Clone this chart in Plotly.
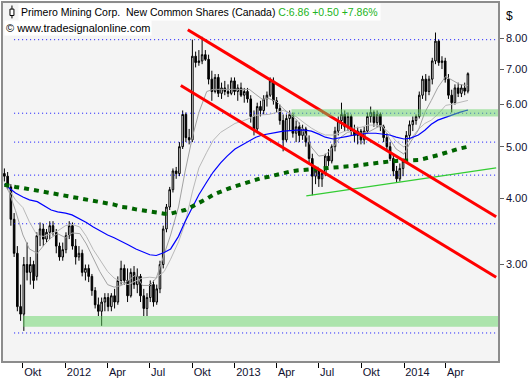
import math
import pandas as pd
import plotly.graph_objects as go

# ---------------- data (weekly OHLC) ----------------
week_start = "2011-08-22"
opens = [4.45, 4.40, 4.20, 3.65, 3.15, 2.50, 2.42, 3.00, 2.90, 3.00,
         2.85, 3.40, 3.50, 3.35, 3.45, 3.55, 3.45, 3.25, 3.10, 3.20,
         3.40, 3.55, 3.25, 3.10, 3.15, 2.90, 2.95, 2.85, 2.68, 2.52,
         2.45, 2.55, 2.60, 2.50, 2.62, 2.55, 2.80, 2.95, 2.80, 2.62,
         2.90, 2.75, 2.85, 2.62, 2.48, 2.60, 2.75, 2.55, 2.70, 3.00,
         3.50, 3.85, 4.15, 4.50, 4.45, 5.00, 5.75, 5.20, 5.15, 7.40,
         7.20, 7.25, 7.45, 7.30, 6.70, 6.35, 6.75, 6.30, 6.45, 6.35,
         6.30, 6.65, 6.35, 6.45, 6.25, 6.35, 6.15, 5.70, 5.40, 5.95,
         5.85, 6.15, 6.25, 6.65, 6.10, 5.90, 5.60, 5.15, 5.65, 5.75,
         5.30, 5.45, 5.25, 5.40, 5.10, 4.75, 4.40, 4.50, 4.35, 4.45,
         4.80, 4.70, 5.00, 5.35, 5.60, 5.75, 5.45, 5.70, 5.35, 5.25,
         5.35, 5.15, 5.35, 5.70, 5.80, 5.55, 5.75, 5.45, 5.20, 5.00,
         4.75, 4.50, 4.35, 4.55, 4.70, 5.25, 5.50, 5.60, 5.70, 6.25,
         6.70, 6.35, 6.70, 7.25, 7.90, 7.20, 7.25, 6.70, 6.25, 6.05,
         6.45, 6.30, 6.45, 6.36]
highs = [4.55, 4.48, 4.25, 3.75, 3.25, 2.75, 3.10, 3.30, 3.10, 3.05,
         3.45, 3.60, 3.58, 3.50, 3.62, 3.62, 3.50, 3.30, 3.30, 3.45,
         3.62, 3.60, 3.35, 3.25, 3.20, 3.00, 3.00, 2.88, 2.72, 2.60,
         2.60, 2.65, 2.65, 2.65, 2.70, 2.85, 3.05, 3.00, 2.95, 2.95,
         2.98, 2.95, 2.88, 2.70, 2.65, 2.80, 2.80, 2.75, 3.05, 3.55,
         3.90, 4.20, 4.55, 4.58, 5.10, 5.85, 5.80, 5.40, 7.95, 7.55,
         7.60, 8.05, 7.60, 7.45, 6.95, 6.85, 6.85, 6.60, 6.65, 6.55,
         6.75, 6.75, 6.55, 6.60, 6.45, 6.45, 6.25, 5.85, 6.05, 6.10,
         6.25, 6.35, 6.75, 6.75, 6.20, 6.00, 5.75, 5.75, 5.85, 5.80,
         5.60, 5.55, 5.50, 5.45, 5.25, 4.85, 4.60, 4.55, 4.50, 4.85,
         4.95, 5.05, 5.45, 5.70, 6.05, 5.85, 5.80, 5.75, 5.50, 5.45,
         5.40, 5.45, 5.80, 5.95, 5.85, 5.85, 5.80, 5.50, 5.30, 5.10,
         4.85, 4.60, 4.65, 4.75, 5.35, 5.60, 5.70, 5.75, 6.35, 6.80,
         6.85, 6.80, 7.35, 8.20, 7.95, 7.40, 7.35, 6.85, 6.40, 6.55,
         6.60, 6.55, 6.60, 6.90]
lows = [4.30, 4.15, 3.55, 3.10, 2.45, 2.35, 2.25, 2.80, 2.75, 2.70,
        2.80, 3.25, 3.25, 3.30, 3.35, 3.40, 3.15, 3.05, 3.05, 3.15,
        3.35, 3.20, 3.00, 3.05, 2.85, 2.80, 2.78, 2.62, 2.48, 2.40,
        2.30, 2.45, 2.45, 2.45, 2.48, 2.52, 2.75, 2.75, 2.55, 2.60,
        2.70, 2.65, 2.55, 2.40, 2.40, 2.55, 2.50, 2.52, 2.65, 2.95,
        3.45, 3.80, 4.10, 4.35, 4.40, 4.95, 5.10, 5.05, 5.10, 7.05,
        7.10, 7.15, 7.25, 6.55, 6.10, 6.30, 6.20, 6.15, 6.25, 6.20,
        6.25, 6.25, 6.10, 6.20, 6.05, 6.05, 5.55, 5.25, 5.35, 5.70,
        5.75, 5.95, 6.20, 6.00, 5.80, 5.50, 4.90, 5.10, 5.35, 5.20,
        5.10, 5.10, 5.15, 5.00, 4.65, 4.05, 4.25, 4.20, 4.20, 4.40,
        4.60, 4.65, 4.90, 5.25, 5.40, 5.35, 5.35, 5.25, 5.10, 5.05,
        5.05, 5.05, 5.30, 5.55, 5.45, 5.45, 5.35, 5.10, 4.90, 4.70,
        4.40, 4.28, 4.30, 4.40, 4.65, 5.15, 5.35, 5.50, 5.65, 6.15,
        6.10, 6.25, 6.55, 7.15, 7.10, 7.00, 6.60, 6.15, 5.80, 6.00,
        6.20, 6.20, 6.25, 6.30]
closes = [4.40, 4.25, 3.65, 3.15, 2.50, 2.42, 3.00, 2.90, 3.00, 2.80,
          3.40, 3.50, 3.35, 3.45, 3.55, 3.45, 3.25, 3.10, 3.20, 3.40,
          3.55, 3.25, 3.10, 3.15, 2.90, 2.95, 2.85, 2.68, 2.52, 2.45,
          2.55, 2.60, 2.50, 2.62, 2.55, 2.80, 2.95, 2.80, 2.62, 2.90,
          2.75, 2.85, 2.62, 2.48, 2.60, 2.75, 2.55, 2.70, 3.00, 3.50,
          3.85, 4.15, 4.50, 4.45, 5.00, 5.75, 5.20, 5.15, 7.40, 7.20,
          7.25, 7.45, 7.30, 6.70, 6.35, 6.75, 6.30, 6.45, 6.35, 6.30,
          6.65, 6.35, 6.45, 6.25, 6.35, 6.15, 5.70, 5.40, 5.95, 5.85,
          6.15, 6.25, 6.65, 6.10, 5.90, 5.60, 5.15, 5.65, 5.75, 5.30,
          5.45, 5.25, 5.40, 5.10, 4.75, 4.40, 4.50, 4.35, 4.45, 4.80,
          4.70, 5.00, 5.35, 5.60, 5.75, 5.45, 5.70, 5.35, 5.25, 5.35,
          5.15, 5.35, 5.70, 5.80, 5.55, 5.75, 5.45, 5.20, 5.00, 4.75,
          4.50, 4.35, 4.55, 4.70, 5.25, 5.50, 5.60, 5.70, 6.25, 6.70,
          6.35, 6.70, 7.25, 7.90, 7.20, 7.25, 6.70, 6.25, 6.05, 6.45,
          6.30, 6.45, 6.36, 6.86]

# moving averages, read at the 1st and 15th of each month
ma_first = "2011-08-22"
ma_last = "2014-05-19"
ma_fast = [4.25, 4.11, 3.79, 3.41, 3.21, 3.15, 3.26, 3.37, 3.43, 3.37,
           3.44, 3.43, 3.28, 3.09, 2.91, 2.75, 2.72, 2.74, 2.80, 2.87,
           2.74, 2.74, 2.83, 3.12, 3.41, 3.85, 4.48, 5.21, 5.80, 6.35,
           6.41, 6.41, 6.41, 6.41, 6.41, 6.41, 6.27, 6.14, 6.16, 6.08,
           5.90, 5.75, 5.61, 5.30, 4.99, 4.80, 4.82, 4.99, 5.19, 5.32,
           5.35, 5.30, 5.32, 5.42, 5.49, 5.17, 4.95, 4.84, 5.10, 5.37,
           5.80, 6.11, 6.46, 6.78, 6.66, 6.55, 6.52, 6.52]
ma_mid = [4.25, 4.15, 3.97, 3.84, 3.61, 3.40, 3.39, 3.43, 3.47, 3.55,
          3.57, 3.53, 3.39, 3.20, 3.07, 2.91, 2.83, 2.78, 2.75, 2.79,
          2.83, 2.84, 2.83, 2.91, 3.07, 3.31, 3.58, 4.11, 4.56, 4.88,
          5.14, 5.32, 5.42, 5.53, 5.58, 5.65, 5.73, 5.74, 5.75, 5.80,
          5.85, 5.78, 5.68, 5.53, 5.42, 5.32, 5.26, 5.26, 5.30, 5.37,
          5.42, 5.44, 5.49, 5.49, 5.46, 5.30, 5.12, 4.99, 5.17, 5.39,
          5.53, 5.61, 5.75, 5.98, 6.01, 6.06, 6.11, 6.11]
ma_50 = [4.25, 4.18, 4.09, 4.02, 3.97, 3.94, 3.87, 3.80, 3.77, 3.75,
         3.72, 3.66, 3.60, 3.53, 3.47, 3.41, 3.37, 3.31, 3.27, 3.21,
         3.17, 3.13, 3.12, 3.16, 3.21, 3.39, 3.61, 3.85, 4.06, 4.29,
         4.48, 4.66, 4.80, 4.95, 5.03, 5.14, 5.21, 5.26, 5.28, 5.32,
         5.35, 5.37, 5.37, 5.37, 5.35, 5.28, 5.21, 5.17, 5.19, 5.23,
         5.26, 5.28, 5.30, 5.30, 5.28, 5.26, 5.21, 5.17, 5.19, 5.26,
         5.37, 5.51, 5.61, 5.68, 5.75, 5.80, 5.85, 5.86]
ma_200 = [4.24, 4.22, 4.20, 4.18, 4.16, 4.13, 4.11, 4.09, 4.07, 4.05,
          4.02, 4.00, 3.98, 3.95, 3.94, 3.91, 3.89, 3.85, 3.84, 3.81,
          3.79, 3.77, 3.75, 3.74, 3.74, 3.77, 3.80, 3.86, 3.91, 3.99,
          4.06, 4.12, 4.16, 4.21, 4.25, 4.29, 4.33, 4.37, 4.39, 4.43,
          4.47, 4.49, 4.51, 4.52, 4.53, 4.54, 4.55, 4.56, 4.57, 4.58,
          4.60, 4.62, 4.64, 4.66, 4.68, 4.69, 4.70, 4.70, 4.70, 4.72,
          4.75, 4.78, 4.82, 4.87, 4.92, 4.96, 4.99, 5.00]

# drawn studies
channel_upper_dates = ["2012-09-21", "2014-07-19"]
channel_upper_vals = [8.30, 3.69]
channel_lower_dates = ["2012-09-06", "2014-07-19"]
channel_lower_vals = [6.52, 2.84]
trend_dates = ["2013-06-04", "2014-07-19"]
trend_vals = [4.04, 4.56]
support_levels = [7.95, 5.78, 5.10, 4.42, 3.58, 2.23]
support_from = "2011-09-12"
zone_upper = [5.70, 5.88]
zone_upper_from = "2013-05-03"
zone_lower = [2.29, 2.40]
zone_lower_from = "2011-10-01"

x_range = ["2011-08-19", "2014-07-23"]
y_range = [1.975, 9.32]
x_tick_dates = ["2011-10-01", "2012-01-01", "2012-04-01", "2012-07-01", "2012-10-01",
                "2013-01-01", "2013-04-01", "2013-07-01", "2013-10-01", "2014-01-01",
                "2014-04-01"]
x_tick_labels = ["Okt", "2012", "Apr", "Jul", "Okt", "2013", "Apr", "Jul", "Okt", "2014", "Apr"]
y_tick_vals = [3, 4, 5, 6, 7, 8]
y_tick_labels = ["3.00", "4.00", "5.00", "6.00", "7.00", "8.00"]

title_name = "Primero Mining Corp.  New Common Shares (Canada)"
title_quote = "C:6.86 +0.50 +7.86%"
source_text = "© www.tradesignalonline.com"
currency = "$"

# ---------------- figure ----------------
dates = pd.date_range(week_start, periods=len(opens), freq="W-MON")
ma_dates = ([pd.Timestamp(ma_first)]
            + list(pd.date_range("2011-09-01", "2014-05-15", freq="SMS"))
            + [pd.Timestamp(ma_last)])

FONT = "Liberation Sans, Arial, sans-serif"
fig = go.Figure()

end_x = x_range[1]
for lvl in support_levels:
    fig.add_trace(go.Scatter(x=[support_from, end_x], y=[lvl, lvl], mode="lines",
                             line=dict(color="#1010ff", width=1, dash="1px,3px"),
                             hoverinfo="skip"))

fig.add_trace(go.Scatter(x=ma_dates, y=ma_mid, mode="lines",
                         line=dict(color="#b9b9b9", width=1), hoverinfo="skip"))
fig.add_trace(go.Scatter(x=ma_dates, y=ma_fast, mode="lines",
                         line=dict(color="#a2a2a2", width=1), hoverinfo="skip"))
fig.add_trace(go.Scatter(x=ma_dates, y=ma_50, mode="lines",
                         line=dict(color="#0000ff", width=1.2), hoverinfo="skip"))

fig.add_trace(go.Candlestick(
    x=dates, open=opens, high=highs, low=lows, close=closes,
    increasing=dict(line=dict(color="black", width=1), fillcolor="white"),
    decreasing=dict(line=dict(color="black", width=1), fillcolor="black"),
    whiskerwidth=0, hoverinfo="skip"))

fig.add_trace(go.Scatter(x=ma_dates, y=ma_200, mode="lines",
                         line=dict(color="#006400", width=4, dash="5px,5px"),
                         hoverinfo="skip"))

fig.add_trace(go.Scatter(x=trend_dates, y=trend_vals, mode="lines",
                         line=dict(color="#33cc33", width=1.2), hoverinfo="skip"))
fig.add_trace(go.Scatter(x=channel_upper_dates, y=channel_upper_vals, mode="lines",
                         line=dict(color="#ff0000", width=3), hoverinfo="skip"))
fig.add_trace(go.Scatter(x=channel_lower_dates, y=channel_lower_vals, mode="lines",
                         line=dict(color="#ff0000", width=3), hoverinfo="skip"))

for lo_hi, start in ((zone_upper, zone_upper_from), (zone_lower, zone_lower_from)):
    lo, hi = lo_hi
    fig.add_trace(go.Scatter(x=[start, end_x, end_x, start, start],
                             y=[lo, lo, hi, hi, lo], mode="lines", fill="toself",
                             fillcolor="rgba(100,212,100,0.5)",
                             line=dict(width=0), hoverinfo="skip"))

fig.update_layout(
    width=528, height=380,
    margin=dict(l=1, r=29, t=1, b=19),
    paper_bgcolor="white", plot_bgcolor="#f4f4f4",
    showlegend=False,
    font=dict(family=FONT, size=11, color="black"),
    xaxis=dict(type="date", range=x_range, showgrid=False, zeroline=False,
               rangeslider=dict(visible=False),
               tickmode="array", tickvals=x_tick_dates, ticktext=x_tick_labels,
               ticks="outside", ticklen=5, tickcolor="black", tickwidth=1,
               ticklabelposition="outside right",
               showline=True, linecolor="#8c8c8c", linewidth=1.5, mirror=True,
               tickfont=dict(family=FONT, size=11, color="#101030")),
    yaxis=dict(type="log", side="right",
               range=[math.log10(y_range[0]), math.log10(y_range[1])],
               showgrid=False, zeroline=False,
               tickmode="array", tickvals=y_tick_vals, ticktext=y_tick_labels,
               ticks="outside", ticklen=4, tickcolor="#606060",
               showline=True, linecolor="#8c8c8c", linewidth=1.5, mirror=True,
               tickfont=dict(family=FONT, size=11, color="#101030")),
)

# header texts
fig.add_annotation(xref="paper", yref="paper", x=0.030, y=1.0, xanchor="left", yanchor="top",
                   text=title_name + ' <span style="color:#22b422">' + title_quote + "</span>",
                   showarrow=False, bgcolor="white", borderpad=2,
                   font=dict(family=FONT, size=10.5, color="black"))
fig.add_annotation(xref="paper", yref="paper", x=0.002, y=0.953, xanchor="left", yanchor="top",
                   text=source_text, showarrow=False, bgcolor="white", borderpad=1,
                   font=dict(family=FONT, size=11, color="black"))
fig.add_annotation(xref="paper", yref="paper", x=1.0, y=0.99, xanchor="left", yanchor="top",
                   xshift=6, text=currency, showarrow=False,
                   font=dict(family=FONT, size=12, color="black"))

# small candle glyph before the title
fig.add_shape(type="line", xref="paper", yref="paper", x0=0.0181, x1=0.0181, y0=0.957, y1=0.993,
              line=dict(color="black", width=1))
fig.add_shape(type="rect", xref="paper", yref="paper", x0=0.0141, x1=0.0221, y0=0.965, y1=0.983,
              line=dict(color="black", width=1), fillcolor="white")

fig.write_html("out.html", config={"displayModeBar": False},
               post_script="document.body.style.margin='0px';document.body.style.overflow='hidden';")
